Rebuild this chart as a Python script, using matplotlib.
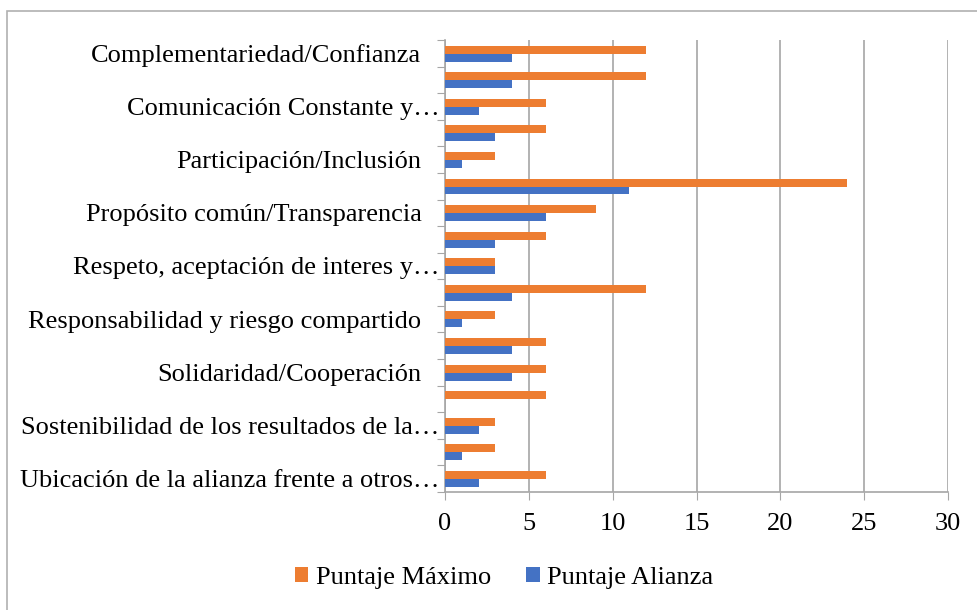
import numpy as np
import matplotlib.pyplot as plt
from matplotlib.patches import Rectangle
from matplotlib.transforms import ScaledTranslation

plt.rcParams['font.family'] = ['Liberation Serif', 'DejaVu Serif']

# categories (only every other label is visible in the chart)
categorias = [
    'Complementariedad/Confianza', '',
    'Comunicación Constante y…', '',
    'Participación/Inclusión', '',
    'Propósito común/Transparencia', '',
    'Respeto, aceptación de interes y…', '',
    'Responsabilidad y riesgo compartido', '',
    'Solidaridad/Cooperación', '',
    'Sostenibilidad de los resultados de la…', '',
    'Ubicación de la alianza frente a otros…',
]
puntaje_maximo = [12, 12, 6, 6, 3, 24, 9, 6, 3, 12, 3, 6, 6, 6, 3, 3, 6]
puntaje_alianza = [4, 4, 2, 3, 1, 11, 6, 3, 3, 4, 1, 4, 4, 0, 2, 1, 2]
xticks = [0, 5, 10, 15, 20, 25, 30]

orange = '#ED7D31'
blue = '#4472C4'
gray = '#A6A6A6'
fs = 19

fig = plt.figure(figsize=(9.77, 6.10), dpi=100)
ax = fig.add_axes([445 / 977, 1 - 492 / 610, (948 - 445) / 977, (492 - 40) / 610])

# outer chart border
fig.patches.append(Rectangle((7 / 977, -0.05), 1.1, 1 - 11 / 610 + 0.05,
                             transform=fig.transFigure, fill=False,
                             edgecolor='#B0B0B0', linewidth=1.2))

y = np.arange(len(categorias))
h = 0.3
ax.barh(y - h / 2 + 0.01, puntaje_maximo, height=h, color=orange, label='Puntaje Máximo', zorder=3)
ax.barh(y + h / 2 + 0.01, puntaje_alianza, height=h, color=blue, label='Puntaje Alianza', zorder=3)

ax.set_xlim(0, 30)
ax.set_ylim(len(categorias) - 0.5, -0.5)
ax.set_xticks(xticks)
ax.tick_params(axis='x', labelsize=fs, length=6, color=gray, pad=9)

# boundary ticks on the left spine, labels at category centres
ax.set_yticks(np.arange(len(categorias) + 1) - 0.5)
ax.set_yticklabels([])
ax.tick_params(axis='y', which='major', length=6, color=gray)
ax.set_yticks(y, minor=True)
ax.set_yticklabels(categorias, minor=True, fontsize=fs)
ax.tick_params(axis='y', which='minor', length=0, pad=17)

# truncated labels run on up to the axis line
shift = ScaledTranslation(18 / 100, 0, fig.dpi_scale_trans)
for lab in ax.get_yticklabels(minor=True):
    if lab.get_text().endswith('…'):
        lab.set_transform(lab.get_transform() + shift)

ax.grid(axis='x', color=gray, linewidth=1.2, zorder=0)
for s in ['top', 'right']:
    ax.spines[s].set_visible(False)
for s in ['left', 'bottom']:
    ax.spines[s].set_color(gray)
    ax.spines[s].set_linewidth(1.2)

leg = fig.legend(loc='center', bbox_to_anchor=(0.5 + 15.5 / 977, 1 - 578 / 610), ncol=2,
                 frameon=False, fontsize=fs, handlelength=0.52, handleheight=0.52,
                 handletextpad=0.27, columnspacing=1.35)

fig.savefig('out.png', dpi=100)
